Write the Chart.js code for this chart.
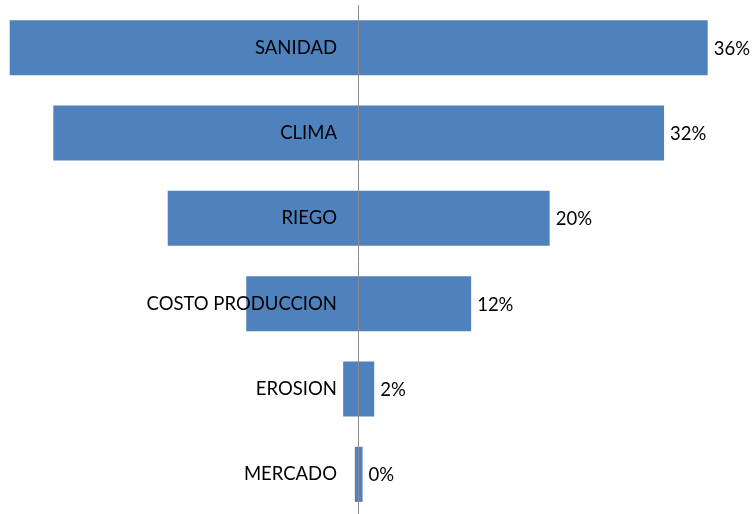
<!DOCTYPE html>
<html>
<head>
<meta charset="utf-8">
<script src="https://cdn.jsdelivr.net/npm/chart.js@4/dist/chart.umd.min.js"></script>
<style>
html,body{margin:0;padding:0;background:#fff;overflow:hidden;}
#wrap{position:relative;width:755px;height:517px;}
</style>
</head>
<body>
<div id="wrap"><canvas id="c"></canvas></div>
<script>
const categories = ["SANIDAD", "CLIMA", "RIEGO", "COSTO PRODUCCION", "EROSION", "MERCADO"];
const values = [36, 31.5, 19.7, 11.6, 1.6, 0.4];

const FONT = { family: 'Lato', size: 18.5 };

const valueLabels = {
  id: 'valueLabels',
  afterDatasetsDraw(chart) {
    const ctx = chart.ctx;
    const meta = chart.getDatasetMeta(0);
    ctx.save();
    ctx.font = FONT.size + 'px ' + FONT.family;
    ctx.fillStyle = '#000';
    ctx.textAlign = 'left';
    ctx.textBaseline = 'middle';
    meta.data.forEach((bar, i) => {
      ctx.fillText(Math.round(values[i]) + '%', bar.x + 6, bar.y + 1);
    });
    ctx.restore();
  }
};

const noPad = s => { s.paddingTop = 0; s.paddingBottom = 0; s.paddingLeft = 0; s.paddingRight = 0; };

new Chart(document.getElementById('c'), {
  type: 'bar',
  data: {
    labels: categories,
    datasets: [{
      data: values.map(v => [-v, v]),
      backgroundColor: '#4F81BD',
      borderWidth: 0,
      barPercentage: 1,
      categoryPercentage: 0.645,
      yAxisID: 'y'
    }]
  },
  options: {
    indexAxis: 'y',
    responsive: true,
    maintainAspectRatio: false,
    animation: false,
    layout: { padding: { top: 5, left: 0, right: 0, bottom: 0 } },
    plugins: { legend: { display: false }, tooltip: { enabled: false } },
    scales: {
      x: {
        type: 'linear',
        min: -37.0,
        max: 40.88,
        display: false
      },
      y: {
        type: 'category',
        position: { x: -2.24 },
        afterFit: noPad,
        grid: { display: false, drawTicks: false, z: 1 },
        border: { display: false },
        ticks: { color: '#000', font: FONT, padding: 0, z: 1 }
      },
      y2: {
        type: 'category',
        labels: categories,
        position: { x: 0 },
        afterFit: noPad,
        grid: { display: false, drawTicks: false, z: 1 },
        border: { display: true, color: '#8c8c8c', width: 1, z: 1 },
        ticks: { display: false }
      }
    }
  },
  plugins: [valueLabels]
});
</script>
</body>
</html>
